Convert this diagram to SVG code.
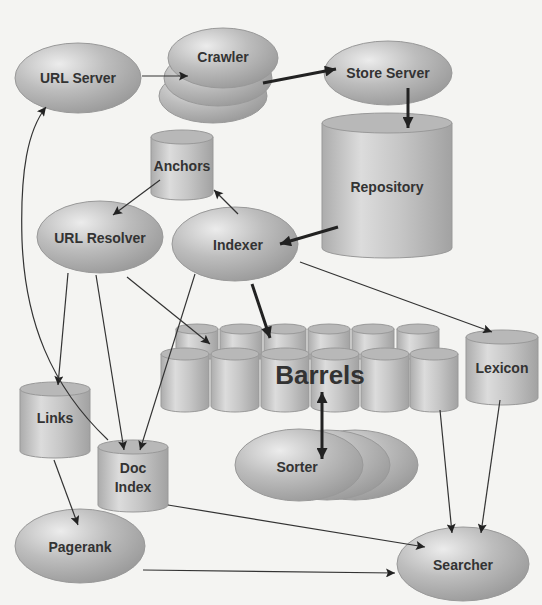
<svg xmlns="http://www.w3.org/2000/svg" width="542" height="605" viewBox="0 0 542 605">
<defs>
<radialGradient id="eg" cx="0.35" cy="0.3" r="0.75">
<stop offset="0" stop-color="#ececec"/><stop offset="0.5" stop-color="#bdbdbd"/><stop offset="1" stop-color="#9a9a9a"/>
</radialGradient>
<linearGradient id="cg" x1="0" y1="0" x2="1" y2="0">
<stop offset="0" stop-color="#acacac"/><stop offset="0.3" stop-color="#dcdcdc"/><stop offset="0.6" stop-color="#c6c6c6"/><stop offset="1" stop-color="#a2a2a2"/>
</linearGradient>
<marker id="a" viewBox="0 0 10 10" refX="10" refY="5" markerWidth="13" markerHeight="9" markerUnits="userSpaceOnUse" orient="auto"><path d="M0,0 L10,5 L0,10 L2,5 z" fill="#222"/></marker>
<marker id="at" viewBox="0 0 10 10" refX="10" refY="5" markerWidth="15" markerHeight="11" markerUnits="userSpaceOnUse" orient="auto"><path d="M0,0 L10,5 L0,10 z" fill="#222"/></marker>
<marker id="as" viewBox="0 0 10 10" refX="0" refY="5" markerWidth="15" markerHeight="11" markerUnits="userSpaceOnUse" orient="auto"><path d="M10,0 L0,5 L10,10 z" fill="#222"/></marker>
</defs>
<style>
.el{fill:url(#eg);stroke:#999;stroke-width:1}
.cy{fill:url(#cg);stroke:#999;stroke-width:1}
.ct{fill:#b8b8b8;stroke:#999;stroke-width:1}
.t{font-family:"Liberation Sans",Arial,sans-serif;font-weight:bold;font-size:14px;fill:#333;text-anchor:middle}
.big{font-size:26px}
.c{fill:none;stroke:#333;stroke-width:1.2}
.k{fill:none;stroke:#222;stroke-width:3}
</style>
<rect width="542" height="605" fill="#f4f4f2"/>

<g id="repository">
<path class="cy" d="M322,123 v125 a65,10 0 0 0 130,0 v-125 z"/>
<ellipse class="ct" cx="387" cy="123" rx="65" ry="10"/>
<text class="t" x="387" y="192">Repository</text>
</g>
<g id="anchors">
<path class="cy" d="M151,137 v56 a31,7 0 0 0 62,0 v-56 z"/>
<ellipse class="ct" cx="182" cy="137" rx="31" ry="7"/>
<text class="t" x="182" y="171">Anchors</text>
</g>
<g id="links">
<path class="cy" d="M20,389 v62 a35,7 0 0 0 70,0 v-62 z"/>
<ellipse class="ct" cx="55" cy="389" rx="35" ry="7"/>
<text class="t" x="55" y="423">Links</text>
</g>
<g id="doc-index">
<path class="cy" d="M98,447 v58 a35,7 0 0 0 70,0 v-58 z"/>
<ellipse class="ct" cx="133" cy="447" rx="35" ry="7"/>
<text class="t" x="133" y="473">Doc</text>
<text class="t" x="133" y="492">Index</text>
</g>
<g id="lexicon">
<path class="cy" d="M466,337 v61 a36,7 0 0 0 72,0 v-61 z"/>
<ellipse class="ct" cx="502" cy="337" rx="36" ry="7"/>
<text class="t" x="502" y="373">Lexicon</text>
</g>
<g id="barrels">
<path class="cy" d="M176,329 v30 h42 v-30 z"/><ellipse class="ct" cx="197" cy="329" rx="21" ry="5"/>
<path class="cy" d="M220,329 v30 h42 v-30 z"/><ellipse class="ct" cx="241" cy="329" rx="21" ry="5"/>
<path class="cy" d="M264,329 v30 h42 v-30 z"/><ellipse class="ct" cx="285" cy="329" rx="21" ry="5"/>
<path class="cy" d="M308,329 v30 h42 v-30 z"/><ellipse class="ct" cx="329" cy="329" rx="21" ry="5"/>
<path class="cy" d="M352,329 v30 h42 v-30 z"/><ellipse class="ct" cx="373" cy="329" rx="21" ry="5"/>
<path class="cy" d="M397,329 v30 h42 v-30 z"/><ellipse class="ct" cx="418" cy="329" rx="21" ry="5"/>
<path class="cy" d="M161,354 v52 a24,6 0 0 0 48,0 v-52 z"/><ellipse class="ct" cx="185" cy="354" rx="24" ry="6"/>
<path class="cy" d="M211,354 v52 a24,6 0 0 0 48,0 v-52 z"/><ellipse class="ct" cx="235" cy="354" rx="24" ry="6"/>
<path class="cy" d="M261,354 v52 a24,6 0 0 0 48,0 v-52 z"/><ellipse class="ct" cx="285" cy="354" rx="24" ry="6"/>
<path class="cy" d="M311,354 v52 a24,6 0 0 0 48,0 v-52 z"/><ellipse class="ct" cx="335" cy="354" rx="24" ry="6"/>
<path class="cy" d="M361,354 v52 a24,6 0 0 0 48,0 v-52 z"/><ellipse class="ct" cx="385" cy="354" rx="24" ry="6"/>
<path class="cy" d="M410,354 v52 a24,6 0 0 0 48,0 v-52 z"/><ellipse class="ct" cx="434" cy="354" rx="24" ry="6"/>
<text class="t big" x="320" y="384">Barrels</text>
</g>

<g id="url-server">
<ellipse class="el" cx="78" cy="78" rx="63" ry="35"/>
<text class="t" x="78" y="83">URL Server</text>
</g>
<g id="crawler">
<ellipse class="el" cx="213" cy="96" rx="54" ry="27"/>
<ellipse class="el" cx="218" cy="78" rx="54" ry="28"/>
<ellipse class="el" cx="223" cy="58" rx="55" ry="30"/>
<text class="t" x="223" y="62">Crawler</text>
</g>
<g id="store-server">
<ellipse class="el" cx="388" cy="73" rx="64" ry="32"/>
<text class="t" x="388" y="78">Store Server</text>
</g>
<g id="url-resolver">
<ellipse class="el" cx="100" cy="237" rx="63" ry="36"/>
<text class="t" x="100" y="243">URL Resolver</text>
</g>
<g id="indexer">
<ellipse class="el" cx="235" cy="244" rx="63" ry="37"/>
<text class="t" x="238" y="250">Indexer</text>
</g>
<g id="sorter">
<ellipse class="el" cx="355" cy="465" rx="63" ry="35"/>
<ellipse class="el" cx="327" cy="465" rx="63" ry="35"/>
<ellipse class="el" cx="299" cy="465" rx="64" ry="36"/>
<text class="t" x="297" y="472">Sorter</text>
</g>
<g id="pagerank">
<ellipse class="el" cx="80" cy="546" rx="65" ry="37"/>
<text class="t" x="80" y="552">Pagerank</text>
</g>
<g id="searcher">
<ellipse class="el" cx="463" cy="564" rx="66" ry="37"/>
<text class="t" x="463" y="570">Searcher</text>
</g>

<g id="connectors">
<path class="c" d="M142,76 L188,76" marker-end="url(#a)"/>
<path class="k" d="M263,83 L336,69" marker-end="url(#at)"/>
<path class="k" d="M408,88 L408,128" marker-end="url(#at)"/>
<path class="k" d="M338,227 L280,244" marker-end="url(#at)"/>
<path class="c" d="M238,214 L214,190" marker-end="url(#a)"/>
<path class="c" d="M160,180 L113,215" marker-end="url(#a)"/>
<path class="c" d="M68,273 L58,385" marker-end="url(#a)"/>
<path class="c" d="M96,275 L124,450" marker-end="url(#a)"/>
<path class="c" d="M127,277 L210,344" marker-end="url(#a)"/>
<path class="c" d="M195,274 L140,450" marker-end="url(#a)"/>
<path class="k" d="M252,284 L270,338" marker-end="url(#at)"/>
<path class="c" d="M300,262 L492,332" marker-end="url(#a)"/>
<path class="c" d="M108,440 C50,385 25,320 22,240 C20,170 28,130 46,107" marker-end="url(#a)"/>
<path class="c" d="M54,460 L78,525" marker-end="url(#a)"/>
<path class="c" d="M168,505 L425,547" marker-end="url(#a)"/>
<path class="c" d="M143,570 L395,573" marker-end="url(#a)"/>
<path class="c" d="M440,410 L452,533" marker-end="url(#a)"/>
<path class="c" d="M500,400 L481,533" marker-end="url(#a)"/>
<path class="k" d="M322,392 L322,459" marker-start="url(#as)" marker-end="url(#at)"/>
</g>
</svg>
